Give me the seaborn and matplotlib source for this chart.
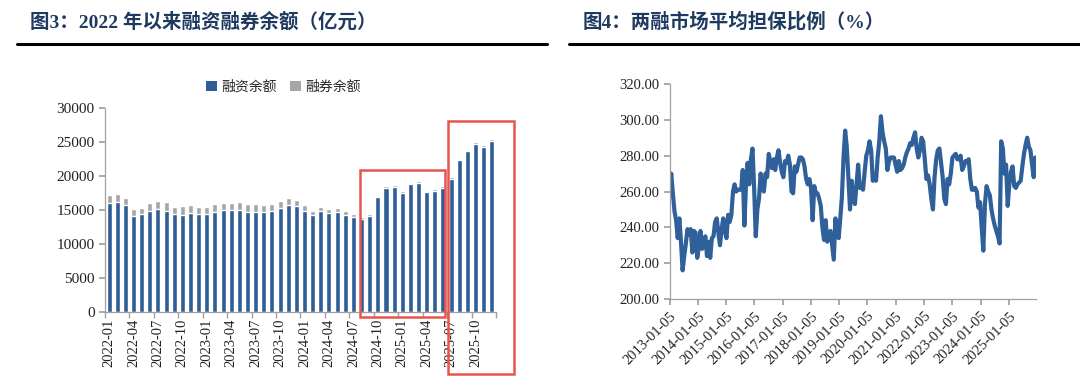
import numpy as np
import pandas as pd
import matplotlib
matplotlib.use("Agg")
import matplotlib.pyplot as plt
import matplotlib.transforms as mtransforms
from matplotlib.patches import Patch, Rectangle
from matplotlib.lines import Line2D
import seaborn as sns

# ---------------- data ----------------
months = list(pd.period_range("2022-01", "2025-12", freq="M").strftime("%Y-%m"))

margin_financing = [
    16085, 16180, 15740, 14170, 14360, 14900, 15150, 14900, 14360, 14310, 14510, 14360,
    14360, 14710, 14950, 14950, 15050, 14760, 14710, 14660, 14900, 15300, 15730, 15630,
    14800, 14260, 14800, 14600, 14650, 14310, 13920, 13720, 14110, 16860, 18230, 18380,
    17490, 18770, 18960, 17590, 17790, 18280, 19600, 22300, 23620, 24700, 24250, 25090,
]
securities_lending = [
    1085, 1130, 1030, 1030, 890, 1185, 1180, 1280, 1085, 1230, 1180, 1085,
    1085, 1130, 1135, 1135, 1130, 1130, 1130, 1130, 1040, 1000, 980, 880,
    880, 590, 640, 590, 640, 540, 440, 200, 290, 245, 245, 245,
    245, 245, 245, 245, 245, 245, 200, 245, 245, 340, 290, 290,
]

ratio_start = "2013-01-05"
ratio_step = "21D"
collateral_ratio = [
    262, 270, 259, 249, 244, 234, 245, 232, 216, 224, 231, 239, 236, 239, 226, 238,
    237, 223, 229, 238, 228, 231, 235, 224, 232, 223, 234, 235, 243, 245, 237, 230,
    239, 245, 238, 234, 247, 243, 247, 260, 264, 260, 261, 261, 261, 272, 241, 264,
    276, 264, 278, 284, 262, 235, 250, 256,
    270, 262, 260, 270, 268, 281, 276, 273, 278, 272,
    279, 283, 276, 271, 268, 277, 276, 280, 275, 260,
    259, 274, 271, 275, 279, 279, 278, 274, 267, 264,
    267, 262, 244, 263, 259, 259, 256, 252, 240, 233,
    244, 232, 235, 238, 230, 222, 245, 236, 234, 245,
    257, 279, 294, 285, 268,
    250, 266, 256, 253, 264, 275, 262, 263, 261, 271,
    280, 283, 288, 283, 266, 268, 266, 279, 288, 302,
    293, 288, 284, 272, 277, 279, 279, 279, 275, 271,
    277, 272, 273, 275, 279, 282, 284, 287, 286, 290,
    293, 284, 279, 283, 290, 288, 278, 267, 269, 264,
    256, 250, 268, 278, 283, 284,
    276, 268, 256, 253, 267, 264, 270, 279, 280, 281,
    278, 278, 280, 272, 274, 277, 277, 278, 267, 261,
    261, 262, 260, 251, 254, 240, 227, 253, 263, 260,
    258, 250, 245, 241, 238, 235, 231, 288, 284, 270,
    275, 252, 264, 271, 274, 263, 262, 264, 265, 266,
    274, 281, 286, 290, 285, 283, 275, 268, 279,
]
ratio_tick_labels = [f"{y}-01-05" for y in range(2013, 2026)]

title_left = "图3：2022 年以来融资融券余额（亿元）"
title_right = "图4：两融市场平均担保比例（%）"
legend_labels = ["融资余额", "融券余额"]

# ---------------- style ----------------
BLUE = "#2F5D95"
LINE = "#30609A"
GREY = "#A6A6A6"
AXIS = "#A0A0A0"
NAVY = "#1F3A60"
RED = "#E8554E"
FAM = ["Liberation Serif", "Noto Sans CJK SC"]

sns.set_theme(style="white")
plt.rcParams["font.family"] = FAM

fig = plt.figure(figsize=(10.8, 3.8), dpi=100)

# ---------------- left chart ----------------
ax1 = fig.add_axes([0.0972, 0.179, 0.3620, 0.537])
total = [a + b for a, b in zip(margin_financing, securities_lending)]
sns.barplot(x=months, y=total, color=GREY, saturation=1, width=0.62, ax=ax1)
sns.barplot(x=months, y=margin_financing, color=BLUE, saturation=1, width=0.62, ax=ax1)
ax1.set_xlim(-0.5, len(months) - 0.5)
ax1.set_ylim(0, 30000)
ax1.set_yticks(np.arange(0, 30001, 5000))
ax1.set_xticks(range(0, len(months), 3))
ax1.set_xticklabels(months[::3], rotation=90, fontsize=10.5, color="#222222")
ax1.set_xticks(np.arange(-0.5, len(months), 3), minor=True)
ax1.tick_params(axis="x", which="major", length=0, pad=5)
ax1.tick_params(axis="x", which="minor", length=4, color=AXIS, bottom=True, direction="out")
ax1.tick_params(axis="y", length=4, color=AXIS, left=True, direction="out", labelsize=11, labelcolor="#222222")
ax1.set_xlabel("")
ax1.set_ylabel("")
for s in ["top", "right"]:
    ax1.spines[s].set_visible(False)
for s in ["left", "bottom"]:
    ax1.spines[s].set_color(AXIS)
    ax1.spines[s].set_linewidth(0.9)

handles = [Patch(facecolor=BLUE, edgecolor="none"), Patch(facecolor=GREY, edgecolor="none")]
fig.legend(handles, legend_labels, loc="center", bbox_to_anchor=(0.2625, 0.772), ncol=2,
           frameon=False, handlelength=0.75, handleheight=0.75,
           handletextpad=0.3, columnspacing=1.0, prop={"family": ["Noto Sans CJK SC"], "size": 10})

# red highlight boxes (x in category units, y in figure fraction)
blend = mtransforms.blended_transform_factory(ax1.transData, fig.transFigure)
for x0, x1, y0, y1 in [(30.8, 41.3, 0.165, 0.553), (41.65, 49.75, 0.016, 0.682)]:
    fig.add_artist(Rectangle((x0, y0), x1 - x0, y1 - y0, transform=blend, fill=False,
                             edgecolor=RED, linewidth=1.8, clip_on=False))

# ---------------- right chart ----------------
ax2 = fig.add_axes([0.620, 0.213, 0.339, 0.566])
dates = pd.date_range(ratio_start, periods=len(collateral_ratio), freq=ratio_step)
sns.lineplot(x=dates, y=collateral_ratio, color=LINE, linewidth=3.0, ax=ax2)
ax2.set_xlim(pd.Timestamp("2013-01-05"), pd.Timestamp("2025-12-18"))
ax2.set_ylim(200, 320)
ax2.set_yticks(np.arange(200, 321, 20))
ax2.set_yticklabels([f"{v:.2f}" for v in np.arange(200, 321, 20)], fontsize=10.5, color="#222222")
ax2.set_xticks(pd.to_datetime(ratio_tick_labels))
ax2.set_xticklabels(ratio_tick_labels, rotation=45, ha="right", rotation_mode="anchor",
                    fontsize=10.5, color="#222222")
ax2.tick_params(axis="both", length=4, color=AXIS, left=True, bottom=True, direction="out")
ax2.set_xlabel("")
ax2.set_ylabel("")
for s in ["top", "right"]:
    ax2.spines[s].set_visible(False)
for s in ["left", "bottom"]:
    ax2.spines[s].set_color(AXIS)
    ax2.spines[s].set_linewidth(0.9)

# ---------------- titles ----------------
fig.text(30 / 1080, 0.942, title_left, fontsize=14, fontweight="bold", color=NAVY,
         va="center", ha="left", family=FAM)
fig.text(583 / 1080, 0.942, title_right, fontsize=14, fontweight="bold", color=NAVY,
         va="center", ha="left", family=FAM)
fig.add_artist(Line2D([17 / 1080, 547 / 1080], [0.884, 0.884], transform=fig.transFigure,
                      color="black", linewidth=2.2))
fig.add_artist(Line2D([569 / 1080, 1.0], [0.884, 0.884], transform=fig.transFigure,
                      color="black", linewidth=2.2))

fig.savefig("out.png", dpi=100)
